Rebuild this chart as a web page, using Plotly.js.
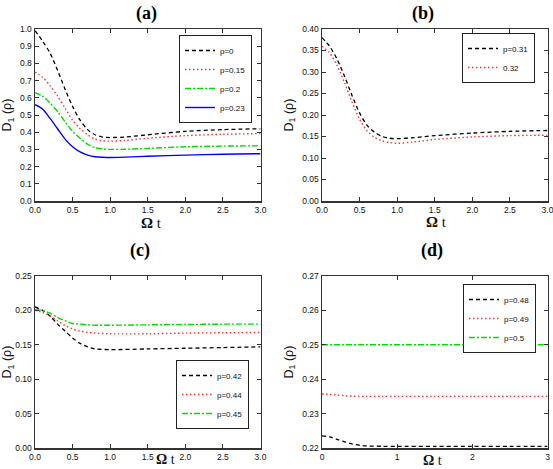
<!DOCTYPE html>
<html>
<head>
<meta charset="utf-8">
<script src="https://cdn.plot.ly/plotly-3.0.1.min.js"></script>
<style>html,body{margin:0;padding:0;background:#fff;}#chart{width:553px;height:469px;}</style>
</head>
<body>
<div id="chart"></div>
<script>
// ---- Data ----
// Panel (a)
const tA = [0, 0.1, 0.2, 0.3, 0.4, 0.5, 0.6, 0.7, 0.8, 0.9, 1.0, 1.2, 1.5, 2.0, 2.5, 3.0];
const aP0   = [0.99, 0.93, 0.86, 0.76, 0.65, 0.55, 0.47, 0.415, 0.385, 0.372, 0.369, 0.372, 0.385, 0.405, 0.415, 0.42];
const aP015 = [0.75, 0.72, 0.67, 0.61, 0.54, 0.47, 0.42, 0.385, 0.36, 0.35, 0.348, 0.352, 0.365, 0.38, 0.388, 0.392];
const aP02  = [0.63, 0.61, 0.57, 0.52, 0.46, 0.405, 0.365, 0.33, 0.31, 0.302, 0.3, 0.301, 0.306, 0.315, 0.319, 0.321];
const aP023 = [0.56, 0.535, 0.48, 0.42, 0.36, 0.315, 0.285, 0.267, 0.257, 0.254, 0.253, 0.255, 0.26, 0.267, 0.272, 0.275];
const aNames = ['p=0', 'p=0.15', 'p=0.2', 'p=0.23'];

// Panel (b)
const tB = [0, 0.1, 0.2, 0.3, 0.4, 0.5, 0.6, 0.7, 0.8, 0.9, 1.0, 1.2, 1.5, 2.0, 2.5, 3.0];
const bP031 = [0.38, 0.36, 0.33, 0.29, 0.245, 0.205, 0.176, 0.16, 0.15, 0.146, 0.145, 0.147, 0.152, 0.158, 0.162, 0.164];
const bP032 = [0.36, 0.345, 0.315, 0.275, 0.23, 0.19, 0.163, 0.148, 0.14, 0.136, 0.134, 0.137, 0.143, 0.149, 0.152, 0.153];
const bNames = ['p=0.31', '0.32'];

// Panel (c)
const tC = [0, 0.1, 0.2, 0.3, 0.4, 0.5, 0.6, 0.7, 0.8, 1.0, 1.5, 2.0, 2.5, 3.0];
const cP042 = [0.205, 0.2, 0.192, 0.18, 0.17, 0.16, 0.152, 0.147, 0.144, 0.143, 0.144, 0.145, 0.146, 0.147];
const cP044 = [0.2, 0.197, 0.192, 0.185, 0.178, 0.173, 0.17, 0.168, 0.167, 0.166, 0.166, 0.167, 0.1675, 0.168];
const cP045 = [0.201, 0.2, 0.196, 0.19, 0.185, 0.181, 0.18, 0.179, 0.1785, 0.1785, 0.179, 0.1795, 0.18, 0.18];
const cNames = ['p=0.42', 'p=0.44', 'p=0.45'];

// Panel (d)
const tD = [0, 0.1, 0.2, 0.3, 0.4, 0.5, 0.6, 0.8, 1.0, 1.5, 2.0, 2.5, 3.0];
const dP048 = [0.2235, 0.2232, 0.2225, 0.2218, 0.2212, 0.2208, 0.2206, 0.2205, 0.2205, 0.2205, 0.2205, 0.2205, 0.2205];
const dP049 = [0.2357, 0.2356, 0.2354, 0.2352, 0.2351, 0.235, 0.235, 0.235, 0.235, 0.235, 0.235, 0.235, 0.235];
const dP05  = [0.25, 0.25, 0.25, 0.25, 0.25, 0.25, 0.25, 0.25, 0.25, 0.25, 0.25, 0.25, 0.25];
const dNames = ['p=0.48', 'p=0.49', 'p=0.5'];

// Tick values / labels
const xTicksHalf = [0, 0.5, 1.0, 1.5, 2.0, 2.5, 3.0];
const xTickTextHalf = ['0.0', '0.5', '1.0', '1.5', '2.0', '2.5', '3.0'];
const xTicksInt = [0, 1, 2, 3];
const xTickTextInt = ['0', '1', '2', '3'];
const yTicksA = [0, 0.1, 0.2, 0.3, 0.4, 0.5, 0.6, 0.7, 0.8, 0.9, 1.0];
const yTicksB = [0, 0.05, 0.1, 0.15, 0.2, 0.25, 0.3, 0.35, 0.4];
const yTicksC = [0, 0.05, 0.1, 0.15, 0.2, 0.25];
const yTicksD = [0.22, 0.23, 0.24, 0.25, 0.26, 0.27];

const panelTitles = ['(a)', '(b)', '(c)', '(d)'];
const xTitle = '<b>Ω</b> t';
const yTitle = 'D<sub>1</sub> (ρ)';

// ---- Styles ----
const S = {
  dash:    {color: '#000000', width: 1.3, dash: '4px,3px'},
  dot:     {color: '#ff3030', width: 1.4, dash: '1.5px,2.5px'},
  dashdot: {color: '#00dd00', width: 1.4, dash: '6px,2px,2px,2px'},
  solid:   {color: '#0000ff', width: 1.4, dash: 'solid'}
};
function tr(x, y, name, style, xa, ya, leg) {
  return {x: x, y: y, name: name, type: 'scatter', mode: 'lines', xaxis: xa, yaxis: ya, legend: leg,
          line: Object.assign({shape: 'spline', smoothing: 0.8}, style), hoverinfo: 'none'};
}

const data = [
  tr(tA, aP0,   aNames[0], S.dash,    'x',  'y',  'legend'),
  tr(tA, aP015, aNames[1], S.dot,     'x',  'y',  'legend'),
  tr(tA, aP02,  aNames[2], S.dashdot, 'x',  'y',  'legend'),
  tr(tA, aP023, aNames[3], S.solid,   'x',  'y',  'legend'),
  tr(tB, bP031, bNames[0], S.dash,    'x2', 'y2', 'legend2'),
  tr(tB, bP032, bNames[1], S.dot,     'x2', 'y2', 'legend2'),
  tr(tC, cP042, cNames[0], S.dash,    'x3', 'y3', 'legend3'),
  tr(tC, cP044, cNames[1], S.dot,     'x3', 'y3', 'legend3'),
  tr(tC, cP045, cNames[2], S.dashdot, 'x3', 'y3', 'legend3'),
  tr(tD, dP048, dNames[0], S.dash,    'x4', 'y4', 'legend4'),
  tr(tD, dP049, dNames[1], S.dot,     'x4', 'y4', 'legend4'),
  tr(tD, dP05,  dNames[2], S.dashdot, 'x4', 'y4', 'legend4')
];

const W = 553, H = 469;
const px = v => v / W;
const py = v => (H - v) / H;

const tickFont = {family: 'Liberation Sans, Arial, sans-serif', size: 8.5, color: '#111'};
const common = {showgrid: false, zeroline: false, showline: true, linecolor: '#333', linewidth: 1.5,
  mirror: 'ticks', ticks: 'inside', ticklen: 4, tickwidth: 1, tickcolor: '#333',
  tickfont: tickFont, automargin: false, fixedrange: true, tickmode: 'array', ticklabeloverflow: 'allow'};
function xax(dom, anchor, vals, texts) {
  return Object.assign({}, common, {domain: dom, anchor: anchor, range: [0, 3], tickvals: vals, ticktext: texts});
}
function yax(dom, anchor, range, vals, digits) {
  return Object.assign({}, common, {domain: dom, anchor: anchor, range: range, tickvals: vals,
          ticktext: vals.map(v => v.toFixed(digits)),
          title: {text: yTitle, font: {family: 'Liberation Sans, Arial, sans-serif', size: 12.5, color: '#111'}, standoff: 6}});
}
const legBase = {bgcolor: '#fff', bordercolor: '#222', borderwidth: 1,
                 font: {family: 'Liberation Sans, Arial, sans-serif', size: 8, color: '#111'},
                 xref: 'paper', yref: 'paper', itemwidth: 30, tracegroupgap: 0};

const topDom = [py(201), py(29)];
const botDom = [py(448), py(276)];
const leftDom = [px(35), px(260.5)];
const rightDom = [px(322), px(547.5)];

const titleFont = {family: 'Liberation Serif, Times New Roman, serif', size: 18, color: '#000'};
const xTitleFont = {family: 'Liberation Serif, Times New Roman, serif', size: 15, color: '#111'};
const xTitleFontSmall = {family: 'Liberation Serif, Times New Roman, serif', size: 14, color: '#111'};
function note(txt, x, y, font) {
  return {text: txt, x: px(x), y: py(y), xref: 'paper', yref: 'paper',
          xanchor: 'center', yanchor: 'middle', showarrow: false, font: font, borderpad: 0};
}
const layout = {
  width: W, height: H,
  margin: {l: 0, r: 0, t: 0, b: 0},
  paper_bgcolor: '#fff', plot_bgcolor: '#fff',
  showlegend: true,
  xaxis:  xax(leftDom,  'y',  xTicksHalf, xTickTextHalf),
  yaxis:  yax(topDom,   'x',  [0, 1], yTicksA, 1),
  xaxis2: xax(rightDom, 'y2', xTicksHalf, xTickTextHalf),
  yaxis2: yax(topDom,   'x2', [0, 0.4], yTicksB, 2),
  xaxis3: xax(leftDom,  'y3', xTicksHalf, xTickTextHalf),
  yaxis3: yax(botDom,   'x3', [0, 0.25], yTicksC, 2),
  xaxis4: xax(rightDom, 'y4', xTicksInt, xTickTextInt),
  yaxis4: yax(botDom,   'x4', [0.22, 0.27], yTicksD, 2),
  legend:  Object.assign({}, legBase, {x: px(252), y: py(35), xanchor: 'right', yanchor: 'top'}),
  legend2: Object.assign({}, legBase, {x: px(535), y: py(33), xanchor: 'right', yanchor: 'top'}),
  legend3: Object.assign({}, legBase, {x: px(249), y: py(429), xanchor: 'right', yanchor: 'bottom'}),
  legend4: Object.assign({}, legBase, {x: px(536), y: py(284), xanchor: 'right', yanchor: 'top'}),
  annotations: [
    note('<b>' + panelTitles[0] + '</b>', 147, 13, titleFont),
    note('<b>' + panelTitles[1] + '</b>', 423, 13, titleFont),
    note('<b>' + panelTitles[2] + '</b>', 140, 250, titleFont),
    note('<b>' + panelTitles[3] + '</b>', 432, 250, titleFont),
    note(xTitle, 151, 223, xTitleFont),
    note(xTitle, 436, 222, xTitleFont),
    note(xTitle, 165, 459, xTitleFontSmall),
    note(xTitle, 432, 460, xTitleFontSmall)
  ]
};

Plotly.newPlot('chart', data, layout, {staticPlot: true, displayModeBar: false});
</script>
</body>
</html>
